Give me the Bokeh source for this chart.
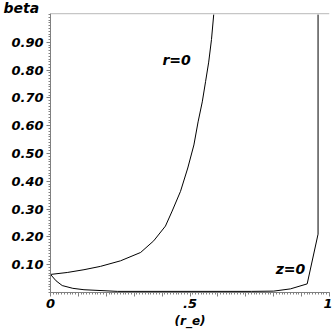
from bokeh.plotting import figure
from bokeh.models import (Range1d, FixedTicker, PrintfTickFormatter,
                          CustomJSTickFormatter, Label, Span)
from bokeh.embed import file_html
from bokeh.resources import INLINE

# curve r=0
r0_x = [0.0, 0.06, 0.12, 0.179, 0.251, 0.323, 0.370, 0.412, 0.436, 0.466,
        0.492, 0.514, 0.529, 0.544, 0.556, 0.567, 0.577, 0.585]
r0_y = [0.065, 0.072, 0.082, 0.094, 0.114, 0.144, 0.186, 0.239, 0.293, 0.364,
        0.448, 0.531, 0.614, 0.686, 0.76, 0.829, 0.91, 1.0]

# curve z=0
z0_x = [0.0, 0.02, 0.042, 0.08, 0.12, 0.24, 0.72, 0.80, 0.86, 0.92, 0.959, 0.959]
z0_y = [0.065, 0.042, 0.025, 0.015, 0.010, 0.004, 0.004, 0.005, 0.013, 0.031, 0.21, 1.0]

x_ticks = [0.0, 0.1, 0.2, 0.3, 0.4, 0.5, 0.6, 0.7, 0.8, 0.9, 1.0]
y_ticks = [0.1, 0.2, 0.3, 0.4, 0.5, 0.6, 0.7, 0.8, 0.9]
minor = [round(i * 0.01, 2) for i in range(0, 101)]

FONT = "DejaVu Sans"

p = figure(width=332, height=330, output_backend="svg", toolbar_location=None,
           x_range=Range1d(0, 1), y_range=Range1d(0, 1.004),
           min_border_left=50, min_border_right=3, min_border_top=11,
           min_border_bottom=38)
p.grid.visible = False
p.outline_line_color = None
p.background_fill_color = "white"
p.border_fill_color = "white"

p.title.text = "beta"
p.title.align = "left"
p.title.text_font = FONT
p.title.text_font_style = "bold italic"
p.title.text_font_size = "14px"
p.title.text_color = "black"
p.title.standoff = -5
p.title.offset = -47

p.line(r0_x, r0_y, line_color="black", line_width=1)
p.line(z0_x, z0_y, line_color="black", line_width=1)

for ax in (p.xaxis[0], p.yaxis[0]):
    ax.axis_line_color = "#808080"
    ax.major_tick_line_color = "#808080"
    ax.minor_tick_line_color = "#808080"
    ax.major_tick_in = 0
    ax.major_tick_out = 4
    ax.minor_tick_in = 0
    ax.minor_tick_out = 2
    ax.major_label_text_font = FONT
    ax.major_label_text_font_style = "bold italic"
    ax.major_label_text_font_size = "13px"
    ax.major_label_text_color = "black"

p.xaxis.ticker = FixedTicker(ticks=x_ticks, minor_ticks=minor)
p.xaxis.formatter = CustomJSTickFormatter(code="""
if (Math.abs(tick) < 1e-9) return "0";
if (Math.abs(tick - 0.5) < 1e-9) return ".5";
if (Math.abs(tick - 1) < 1e-9) return "1";
return "";
""")
p.xaxis.major_label_standoff = 2
p.xaxis.axis_label = "(r_e)"
p.xaxis.axis_label_text_font = FONT
p.xaxis.axis_label_text_font_style = "bold italic"
p.xaxis.axis_label_text_font_size = "12px"
p.xaxis.axis_label_text_color = "black"
p.xaxis.axis_label_standoff = 3

p.yaxis.ticker = FixedTicker(ticks=y_ticks, minor_ticks=minor)
p.yaxis.formatter = PrintfTickFormatter(format="%.2f")
p.yaxis.major_label_standoff = 3

p.add_layout(Span(location=1.0036, dimension="width", line_color="#808080", line_width=1))

p.add_layout(Label(x=0.452, y=0.836, text="r=0", text_font=FONT,
                   text_font_style="bold italic", text_font_size="14px",
                   text_color="black",
                   text_baseline="middle", text_align="center"))
p.add_layout(Label(x=0.860, y=0.084, text="z=0", text_font=FONT,
                   text_font_style="bold italic", text_font_size="14px",
                   text_color="black",
                   text_baseline="middle", text_align="center"))

open("out.html", "w").write(file_html(p, INLINE))
